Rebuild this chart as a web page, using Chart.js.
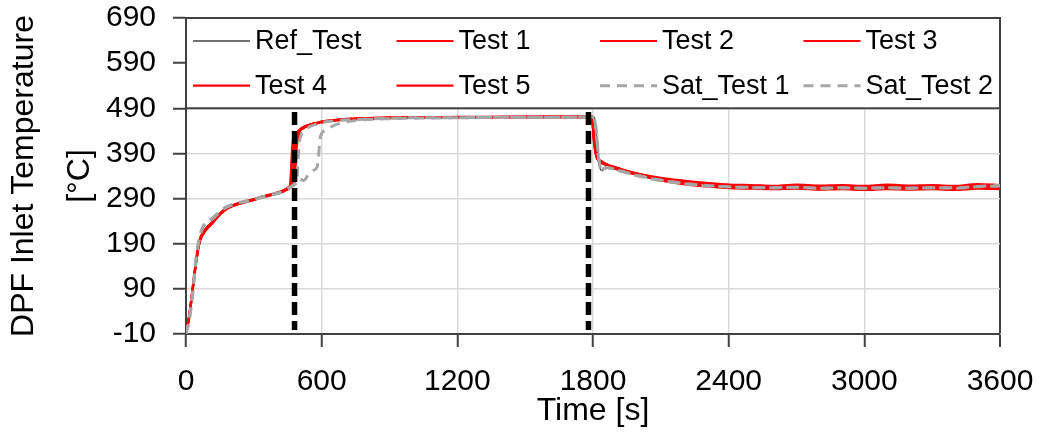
<!DOCTYPE html>
<html>
<head>
<meta charset="utf-8">
<script src="https://cdn.jsdelivr.net/npm/chart.js@4.4.1/dist/chart.umd.min.js"></script>
<style>
  html, body { margin: 0; padding: 0; background: #ffffff; }
  #wrap { width: 1042px; height: 435px; }
</style>
</head>
<body>
<div id="wrap"><canvas id="chart" width="1042" height="435"></canvas></div>
<script>
// Sample times [s] shared by every run
const timeS = [
  0, 15, 30, 45, 60, 75, 90, 120, 150, 180, 210, 240, 270, 300, 340, 380, 420,
  445, 460, 470, 480, 490, 500, 520, 540, 560, 580, 595, 620, 650,
  700, 800, 900, 1000, 1200, 1400, 1600, 1780,
  1795, 1805, 1815, 1825, 1840, 1860, 1880, 1920, 1960, 2000,
  2100, 2200, 2300, 2400, 2500, 2600, 2700, 2800, 2900, 3000, 3100, 3200, 3300, 3400, 3500, 3600
];

// DPF inlet temperature [°C] per run
const refTest = [
  -10, 31, 91, 151, 195, 214, 226, 241, 258, 269, 276, 281, 285, 289, 295, 300, 306,
  312, 318, 323, 390, 428, 438, 446, 451, 455, 457, 459, 461, 463,
  465, 467, 469, 470, 470, 471, 471, 472,
  472, 470, 430, 372, 352, 360, 358, 352, 347, 342,
  332, 325, 320, 317, 315, 314, 315, 313, 314, 313, 314, 313, 314, 313, 316, 318
];
const test1 = [
  -10, 32, 92, 152, 196, 213, 223, 239, 256, 268, 275, 280, 284, 288, 294, 299, 305,
  311, 318, 405, 428, 436, 442, 449, 453, 456, 458, 460, 462, 464,
  466, 468, 469, 470, 470, 471, 471, 471,
  468, 415, 384, 375, 370, 365, 361, 355, 349, 344,
  333, 327, 322, 320, 319, 317, 320, 316, 318, 317, 319, 316, 318, 317, 320, 318
];
const test2 = [
  -10, 28, 88, 148, 192, 210, 221, 237, 254, 267, 274, 279, 283, 287, 293, 298, 304,
  310, 316, 322, 398, 430, 440, 448, 452, 455, 458, 460, 462, 463,
  465, 467, 469, 469, 470, 470, 471, 470,
  469, 425, 390, 378, 372, 366, 362, 356, 350, 345,
  336, 330, 325, 321, 320, 318, 321, 319, 320, 318, 321, 319, 320, 318, 322, 320
];
const test3 = [
  -10, 35, 95, 155, 198, 215, 225, 240, 257, 269, 276, 281, 285, 289, 295, 300, 306,
  312, 317, 321, 326, 405, 434, 446, 451, 455, 457, 459, 461, 463,
  466, 468, 470, 470, 471, 471, 472, 471,
  467, 410, 382, 373, 368, 363, 359, 353, 347, 342,
  330, 322, 317, 313, 312, 311, 312, 310, 311, 309, 311, 310, 311, 309, 312, 311
];
const test4 = [
  -10, 30, 90, 150, 194, 211, 222, 238, 255, 267, 274, 279, 283, 287, 293, 298, 303,
  309, 316, 385, 425, 434, 440, 447, 452, 455, 457, 459, 461, 463,
  465, 467, 468, 469, 470, 470, 470, 470,
  468, 418, 386, 376, 371, 366, 362, 356, 350, 345,
  335, 328, 323, 319, 317, 316, 318, 314, 316, 315, 317, 314, 316, 315, 318, 316
];
const test5 = [
  -10, 33, 93, 153, 197, 214, 224, 239, 256, 268, 275, 280, 284, 288, 294, 299, 305,
  311, 317, 321, 360, 425, 438, 447, 451, 455, 457, 459, 461, 463,
  465, 467, 469, 470, 470, 471, 471, 471,
  468, 422, 388, 377, 371, 366, 361, 355, 349, 344,
  331, 324, 319, 315, 313, 312, 314, 311, 313, 311, 313, 312, 313, 311, 314, 312
];
const satTest1 = [
  -10, 22, 80, 160, 205, 228, 238, 248, 262, 272, 278, 282, 285, 289, 294, 299, 304,
  310, 315, 318, 322, 328, 334, 330, 342, 352, 360, 428, 442, 451,
  459, 465, 467, 468, 469, 470, 470, 470,
  470, 469, 440, 380, 350, 358, 357, 352, 346, 341,
  331, 324, 319, 316, 315, 314, 315, 313, 314, 313, 314, 313, 314, 314, 317, 319
];
const satTest2 = [
  -10, 26, 86, 158, 203, 226, 236, 246, 261, 271, 277, 281, 284, 288, 293, 298, 303,
  309, 314, 318, 321, 330, 410, 438, 447, 452, 455, 458, 460, 462,
  464, 466, 468, 469, 469, 470, 470, 470,
  470, 468, 435, 378, 355, 359, 356, 351, 345, 340,
  330, 323, 318, 316, 314, 314, 315, 313, 314, 313, 314, 313, 314, 313, 316, 318
];

// Phase boundaries [s] and the temperature span of their marker lines
const phaseTimes = [480, 1780];
const phaseSpan = [482, -1];

// Axis ticks
const xTicks = [0, 600, 1200, 1800, 2400, 3000, 3600];
const yTicks = [-10, 90, 190, 290, 390, 490, 590, 690];

const FONT = '"Liberation Sans", Arial, Helvetica, sans-serif';
const AXIS_DARK = '#404040';
const GRID_LIGHT = '#d9d9d9';
const RED = '#ff0000';
const SAT_GRAY = '#a6a6a6';

const toPoints = (vals) => vals.map((v, i) => ({ x: timeS[i], y: v }));

function runSet(label, vals, color, width, dash, order) {
  return {
    label,
    data: toPoints(vals),
    borderColor: color,
    backgroundColor: color,
    borderWidth: width,
    borderDash: dash,
    pointRadius: 0,
    cubicInterpolationMode: 'monotone',
    fill: false,
    order
  };
}

const datasets = [
  runSet('Ref_Test', refTest, AXIS_DARK, 1.6, [], 8),
  runSet('Test 1', test1, RED, 2.2, [], 7),
  runSet('Test 2', test2, RED, 2.2, [], 6),
  runSet('Test 3', test3, RED, 2.2, [], 5),
  runSet('Test 4', test4, RED, 2.2, [], 4),
  runSet('Test 5', test5, RED, 2.2, [], 3),
  runSet('Sat_Test 1', satTest1, SAT_GRAY, 3, [10, 7], 2),
  runSet('Sat_Test 2', satTest2, SAT_GRAY, 3, [10, 7], 1)
];

phaseTimes.forEach((t) => {
  datasets.push({
    label: '',
    data: phaseSpan.map((v) => ({ x: t, y: v })),
    borderColor: '#000000',
    borderWidth: 5.5,
    borderDash: [13, 6],
    pointRadius: 0,
    fill: false,
    order: -1
  });
});

// Legend drawn as a framed panel across the top band of the plot
const legendPanel = {
  id: 'legendPanel',
  afterDatasetsDraw(chart) {
    const { ctx, chartArea, scales } = chart;
    const left = chartArea.left, right = chartArea.right;
    const top = scales.y.getPixelForValue(690);
    const bottom = scales.y.getPixelForValue(490);
    ctx.save();
    ctx.fillStyle = '#ffffff';
    ctx.fillRect(left, top, right - left, bottom - top);
    ctx.strokeStyle = AXIS_DARK;
    ctx.lineWidth = 2;
    ctx.strokeRect(left, top, right - left, bottom - top);

    const items = chart.data.datasets.filter((d) => d.label);
    const colW = (right - left) / 4;
    ctx.font = '27px ' + FONT;
    ctx.textBaseline = 'middle';
    ctx.textAlign = 'left';
    items.forEach((ds, i) => {
      const row = Math.floor(i / 4), col = i % 4;
      const cy = top + (bottom - top) * (row === 0 ? 0.255 : 0.75);
      const x0 = left + col * colW + 7;
      ctx.beginPath();
      ctx.setLineDash(ds.borderDash || []);
      ctx.strokeStyle = ds.borderColor;
      ctx.lineWidth = ds.borderWidth;
      ctx.moveTo(x0, cy);
      ctx.lineTo(x0 + 57, cy);
      ctx.stroke();
      ctx.setLineDash([]);
      ctx.fillStyle = '#000000';
      ctx.fillText(ds.label, x0 + 62, cy + 1);
    });
    ctx.restore();
  }
};

new Chart(document.getElementById('chart'), {
  type: 'line',
  data: { datasets },
  plugins: [legendPanel],
  options: {
    responsive: false,
    animation: false,
    devicePixelRatio: 1,
    layout: { padding: { left: 0, right: 42, top: 18, bottom: 0 } },
    plugins: { legend: { display: false }, tooltip: { enabled: false } },
    scales: {
      x: {
        type: 'linear',
        min: 0,
        max: 3600,
        afterBuildTicks: (scale) => { scale.ticks = xTicks.map((v) => ({ value: v })); },
        afterFit: (scale) => {
          scale.height = 101;
          scale.paddingLeft = 0;
          scale.paddingRight = 0;
        },
        grid: {
          color: (c) => c.tick.value === 0 ? 'rgba(0,0,0,0)' : (c.tick.value === 3600 ? AXIS_DARK : GRID_LIGHT),
          lineWidth: (c) => c.tick.value === 3600 ? 2 : 1.5,
          tickLength: 13,
          tickColor: AXIS_DARK,
          tickWidth: 2
        },
        border: { display: true, color: AXIS_DARK, width: 2 },
        ticks: {
          font: { family: FONT, size: 30 },
          color: '#000000',
          padding: 17,
          maxRotation: 0,
          autoSkip: false,
          callback: (v) => String(v)
        },
        title: {
          display: true,
          text: 'Time [s]',
          font: { family: FONT, size: 32 },
          color: '#000000',
          padding: { top: 0, bottom: 5 }
        }
      },
      y: {
        type: 'linear',
        min: -10,
        max: 690,
        afterBuildTicks: (scale) => { scale.ticks = yTicks.map((v) => ({ value: v })); },
        afterFit: (scale) => {
          scale.width = 186;
          scale.paddingTop = 0;
          scale.paddingBottom = 0;
        },
        grid: {
          color: (c) => c.tick.value === -10 ? 'rgba(0,0,0,0)' : GRID_LIGHT,
          lineWidth: 1.5,
          tickLength: 13,
          tickColor: AXIS_DARK,
          tickWidth: 2
        },
        border: { display: true, color: AXIS_DARK, width: 2 },
        ticks: {
          font: { family: FONT, size: 30 },
          color: '#000000',
          padding: 17,
          autoSkip: false,
          callback: (v) => String(v)
        },
        title: {
          display: true,
          text: ['DPF Inlet Temperature', '[°C]'],
          font: { family: FONT, size: 32, lineHeight: 1.75 },
          color: '#000000',
          padding: { top: -4, bottom: 0 }
        }
      }
    }
  }
});
</script>
</body>
</html>
